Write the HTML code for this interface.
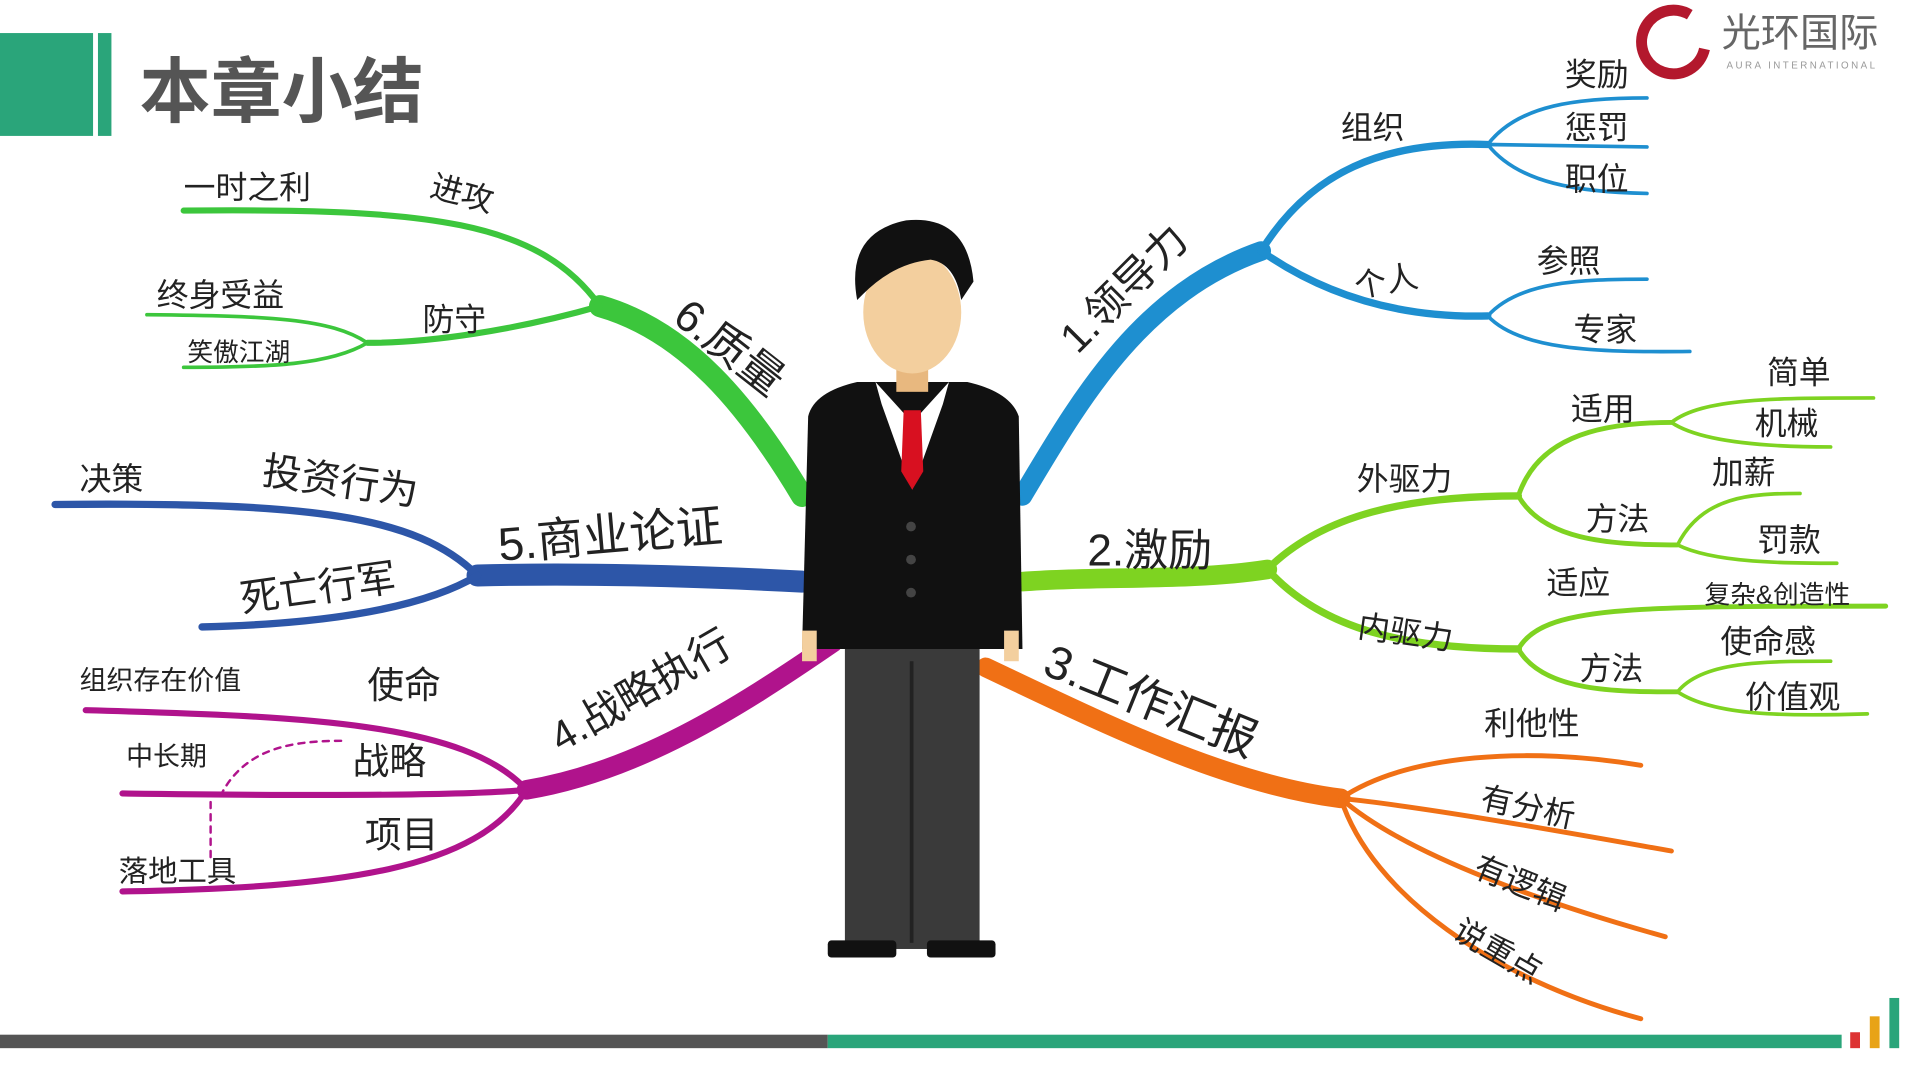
<!DOCTYPE html>
<html><head><meta charset="utf-8"><style>
html,body{margin:0;padding:0;background:#fff;}
svg{display:block}
text{font-family:"Liberation Sans","Noto Sans CJK SC",sans-serif;}
</style></head><body>
<svg width="1920" height="1080" viewBox="0 0 1568 882">
<rect x="0" y="0" width="1568" height="882" fill="#fff"/>
<!-- header -->
<rect x="0" y="27" width="76" height="84" fill="#2aa57a"/>
<rect x="80" y="27" width="11" height="84" fill="#2aa57a"/>
<text x="114" y="95" font-size="58" font-weight="bold" fill="#555">本章小结</text>
<g>
<path d="M1380 12 A26 26 0 1 0 1392 40" fill="none" stroke="#b3182d" stroke-width="9"/>
<text x="1406" y="38" font-size="32" fill="#666">光环国际</text>
<text x="1410" y="56" font-size="8" fill="#999" letter-spacing="2">AURA INTERNATIONAL</text>
</g>
<!-- footer -->
<rect x="0" y="845" width="676" height="11" fill="#555"/>
<rect x="676" y="845" width="828" height="11" fill="#2aa57a"/>
<rect x="1511" y="843" width="8" height="13" fill="#d33"/>
<rect x="1527" y="830" width="8" height="26" fill="#e8a317"/>
<rect x="1543" y="815" width="8" height="41" fill="#2aa57a"/>

<g fill="none" stroke-linecap="round">
<!-- 1 blue -->
<g stroke="#1e8fd0">
<path d="M835 405 C880 330 930 240 1030 205" stroke-width="16"/>
<path d="M1030 205 C1070 140 1130 115 1215 118" stroke-width="6"/>
<path d="M1030 205 C1080 240 1140 260 1215 258" stroke-width="6"/>
<path d="M1215 118 C1240 85 1290 80 1345 80" stroke-width="3"/>
<path d="M1215 118 L1345 120" stroke-width="3"/>
<path d="M1215 118 C1240 150 1290 157 1345 158" stroke-width="3"/>
<path d="M1215 258 C1240 230 1290 228 1345 228" stroke-width="3"/>
<path d="M1215 258 C1240 285 1300 288 1380 287" stroke-width="3"/>
</g>
<!-- 2 light green -->
<g stroke="#7ed321">
<path d="M835 475 C900 470 970 475 1035 465" stroke-width="16"/>
<path d="M1035 465 C1080 420 1150 405 1240 405" stroke-width="6"/>
<path d="M1035 465 C1080 515 1150 530 1240 530" stroke-width="6"/>
<path d="M1240 405 C1255 360 1300 345 1365 345" stroke-width="4"/>
<path d="M1240 405 C1260 440 1310 445 1370 445" stroke-width="4"/>
<path d="M1365 345 C1390 325 1450 325 1530 325" stroke-width="3"/>
<path d="M1365 345 C1390 362 1450 365 1495 365" stroke-width="3"/>
<path d="M1370 445 C1390 405 1430 403 1470 403" stroke-width="3"/>
<path d="M1370 445 C1400 460 1460 460 1500 460" stroke-width="3"/>
<path d="M1240 530 C1260 495 1330 495 1540 495" stroke-width="4"/>
<path d="M1240 530 C1260 565 1320 565 1370 565" stroke-width="4"/>
<path d="M1370 565 C1390 540 1440 540 1495 540" stroke-width="3"/>
<path d="M1370 565 C1400 585 1460 585 1525 583" stroke-width="3"/>
</g>
<!-- 3 orange -->
<g stroke="#f07015">
<path d="M805 545 C900 590 1000 640 1095 652" stroke-width="16"/>
<path d="M1095 652 C1150 615 1250 610 1340 625" stroke-width="4"/>
<path d="M1095 652 C1170 660 1280 680 1365 695" stroke-width="4"/>
<path d="M1095 652 C1150 700 1270 740 1360 765" stroke-width="4"/>
<path d="M1095 652 C1120 730 1220 800 1340 832" stroke-width="4"/>
</g>
<!-- 4 magenta -->
<g stroke="#b0138c">
<path d="M680 525 C600 580 520 630 430 645" stroke-width="16"/>
<path d="M430 645 C380 590 250 585 70 580" stroke-width="5"/>
<path d="M430 645 C380 650 250 650 100 648" stroke-width="5"/>
<path d="M430 645 C390 710 280 725 100 728" stroke-width="5"/>
<path d="M180 650 C200 610 240 605 280 605" stroke-width="2" stroke-dasharray="5 5"/>
<path d="M172 700 L172 650" stroke-width="2" stroke-dasharray="5 5"/>
</g>
<!-- 5 blue dark -->
<g stroke="#2d56a8">
<path d="M655 475 C560 470 470 468 390 470" stroke-width="18"/>
<path d="M390 470 C340 420 250 410 45 412" stroke-width="6"/>
<path d="M390 470 C340 500 250 510 165 512" stroke-width="6"/>
</g>
<!-- 6 green -->
<g stroke="#3cc63c">
<path d="M655 405 C610 330 560 270 490 250" stroke-width="18"/>
<path d="M490 250 C440 180 350 170 150 172" stroke-width="5"/>
<path d="M490 250 C420 270 350 280 300 280" stroke-width="5"/>
<path d="M300 280 C270 260 220 258 120 257" stroke-width="3"/>
<path d="M300 280 C270 298 220 300 150 300" stroke-width="3"/>
</g>
</g>

<!-- person -->
<g>
<rect x="690" y="530" width="110" height="245" fill="#3a3a3a"/>
<rect x="743" y="540" width="3" height="230" fill="#222"/>
<rect x="676" y="768" width="56" height="14" rx="3" fill="#111"/>
<rect x="757" y="768" width="56" height="14" rx="3" fill="#111"/>
<path d="M660 340 Q665 320 700 312 L790 312 Q825 320 832 340 L835 530 L655 530 Z" fill="#111"/>
<rect x="655" y="515" width="12" height="25" fill="#f3cf9e"/>
<rect x="820" y="515" width="12" height="25" fill="#f3cf9e"/>
<path d="M715 312 L745 345 L775 312 L770 330 L745 400 L720 330 Z" fill="#fff"/>
<path d="M738 335 L752 335 L754 385 L745 400 L736 385 Z" fill="#d81020"/>
<rect x="732" y="290" width="26" height="30" fill="#e8b87f"/>
<ellipse cx="745" cy="255" rx="40" ry="50" fill="#f3cf9e"/>
<path d="M700 245 Q690 190 740 180 Q790 175 795 230 L785 245 Q780 215 760 212 Q730 215 705 240 Z" fill="#111"/>
<circle cx="744" cy="430" r="4" fill="#444"/><circle cx="744" cy="457" r="4" fill="#444"/><circle cx="744" cy="484" r="4" fill="#444"/>
</g>

<!-- labels -->
<g fill="#222" font-size="26">
<text x="880" y="290" font-size="34" transform="rotate(-45 880 290)">1.领导力</text>
<text x="1095" y="113">组织</text>
<text x="1278" y="70">奖励</text>
<text x="1278" y="113">惩罚</text>
<text x="1278" y="155">职位</text>
<text x="1108" y="243" transform="rotate(-10 1108 243)">个人</text>
<text x="1255" y="222">参照</text>
<text x="1285" y="278">专家</text>
<text x="888" y="462" font-size="36">2.激励</text>
<text x="1108" y="400">外驱力</text>
<text x="1283" y="343">适用</text>
<text x="1443" y="313">简单</text>
<text x="1433" y="355">机械</text>
<text x="1398" y="395">加薪</text>
<text x="1295" y="433">方法</text>
<text x="1435" y="450">罚款</text>
<text x="1108" y="520" transform="rotate(8 1108 520)">内驱力</text>
<text x="1263" y="485">适应</text>
<text x="1392" y="493" font-size="21">复杂&amp;创造性</text>
<text x="1405" y="533">使命感</text>
<text x="1290" y="555">方法</text>
<text x="1425" y="578">价值观</text>
<text x="850" y="550" font-size="38" transform="rotate(22 850 550)">3.工作汇报</text>
<text x="1212" y="600">利他性</text>
<text x="1208" y="660" transform="rotate(12 1208 660)">有分析</text>
<text x="1202" y="715" transform="rotate(22 1202 715)">有逻辑</text>
<text x="1185" y="765" transform="rotate(30 1185 765)">说重点</text>
<text x="458" y="615" font-size="34" transform="rotate(-30 458 615)">4.战略执行</text>
<text x="65" y="563" font-size="22">组织存在价值</text>
<text x="300" y="570" font-size="30">使命</text>
<text x="103" y="625" font-size="22">中长期</text>
<text x="288" y="632" font-size="30">战略</text>
<text x="298" y="692" font-size="30">项目</text>
<text x="97" y="720" font-size="24">落地工具</text>
<text x="408" y="458" font-size="38" transform="rotate(-5 408 458)">5.商业论证</text>
<text x="65" y="400" font-size="26">决策</text>
<text x="213" y="395" font-size="32" transform="rotate(8 213 395)">投资行为</text>
<text x="198" y="500" font-size="32" transform="rotate(-8 198 500)">死亡行军</text>
<text x="548" y="262" font-size="36" transform="rotate(38 548 262)">6.质量</text>
<text x="150" y="162">一时之利</text>
<text x="350" y="160" transform="rotate(15 350 160)">进攻</text>
<text x="128" y="250">终身受益</text>
<text x="345" y="270">防守</text>
<text x="153" y="295" font-size="21">笑傲江湖</text>
</g>
</svg>
</body></html>
